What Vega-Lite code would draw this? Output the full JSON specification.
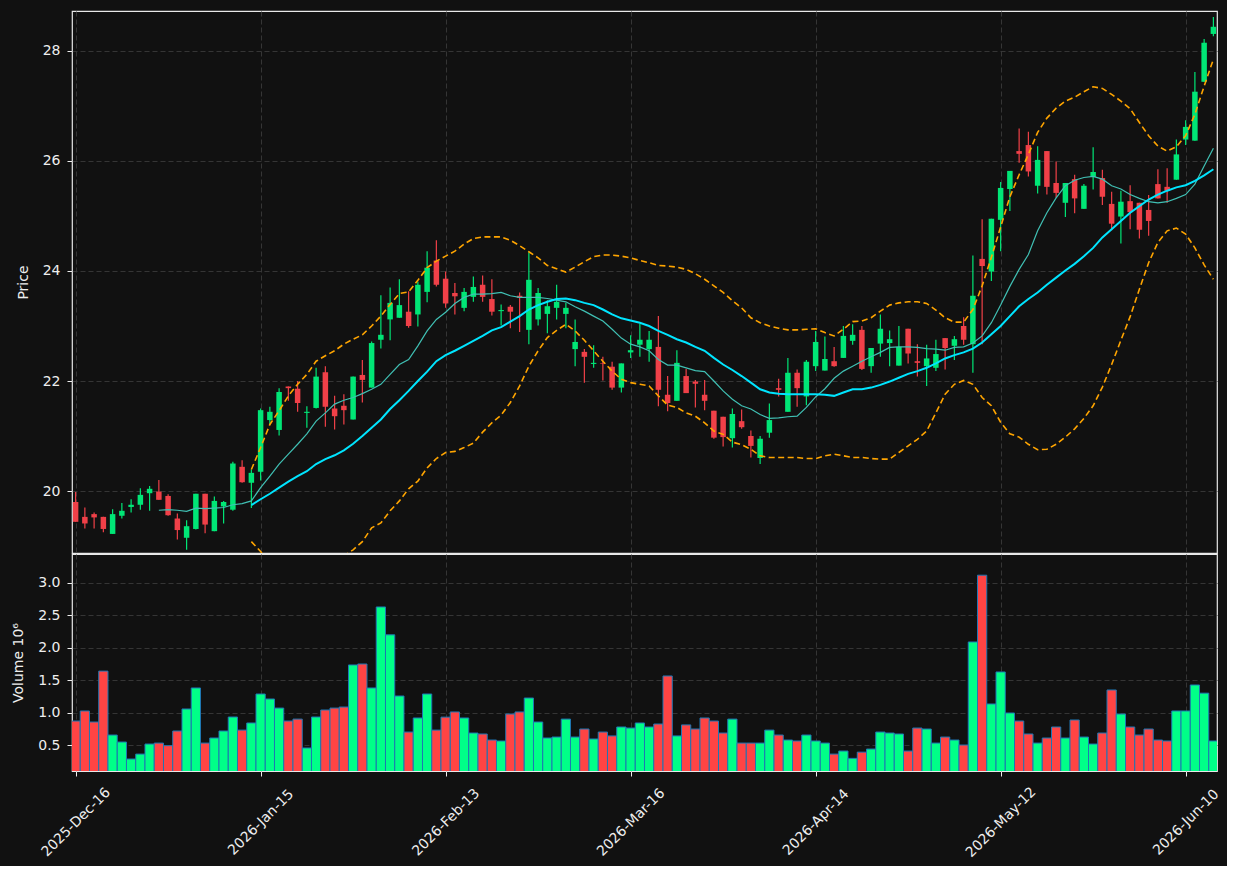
{
"$schema": "https://vega.github.io/schema/vega-lite/v6.json",
"background": "#111111",
"autosize": {"type": "pad"},
"padding": {"left": 11, "top": 10, "right": 5, "bottom": 5},
"spacing": 1,
"bounds": "flush",
"config": {
  "view": {"stroke": "#e8e8e8", "strokeWidth": 1.2},
  "axis": {"labelFont": "DejaVu Sans", "labelFontSize": 14, "labelColor": "#eeeeee", "titleFont": "DejaVu Sans", "titleFontSize": 14, "titleFontWeight": "normal", "titleColor": "#eeeeee", "tickColor": "#eeeeee", "tickSize": 5, "tickWidth": 1, "labelPadding": 7, "domain": false, "gridColor": "#3a3a3a", "gridDash": [5, 3], "gridWidth": 0.9}
},
"data": {"values": [
{"d":"2025-12-16","o":19.80,"h":19.98,"l":19.44,"c":19.44,"v":0.87},
{"d":"2025-12-17","o":19.53,"h":19.70,"l":19.32,"c":19.41,"v":1.025},
{"d":"2025-12-18","o":19.58,"h":19.61,"l":19.32,"c":19.52,"v":0.855},
{"d":"2025-12-19","o":19.53,"h":19.53,"l":19.25,"c":19.31,"v":1.64},
{"d":"2025-12-22","o":19.22,"h":19.67,"l":19.22,"c":19.58,"v":0.654},
{"d":"2025-12-23","o":19.55,"h":19.78,"l":19.50,"c":19.64,"v":0.546},
{"d":"2025-12-24","o":19.71,"h":19.85,"l":19.61,"c":19.75,"v":0.284},
{"d":"2025-12-26","o":19.75,"h":20.05,"l":19.66,"c":19.93,"v":0.36},
{"d":"2025-12-29","o":19.96,"h":20.09,"l":19.64,"c":20.04,"v":0.515},
{"d":"2025-12-30","o":19.99,"h":20.20,"l":19.84,"c":19.84,"v":0.53,"m10":19.65},
{"d":"2025-12-31","o":19.91,"h":19.94,"l":19.55,"c":19.56,"v":0.49,"m10":19.66},
{"d":"2026-01-02","o":19.50,"h":19.59,"l":19.12,"c":19.29,"v":0.716,"m10":19.65},
{"d":"2026-01-05","o":19.15,"h":19.47,"l":18.93,"c":19.36,"v":1.056,"m10":19.63},
{"d":"2026-01-06","o":19.31,"h":19.95,"l":19.30,"c":19.95,"v":1.38,"m10":19.69},
{"d":"2026-01-07","o":19.95,"h":19.95,"l":19.23,"c":19.39,"v":0.53,"m10":19.68},
{"d":"2026-01-08","o":19.27,"h":19.90,"l":19.27,"c":19.82,"v":0.608,"m10":19.69},
{"d":"2026-01-09","o":19.72,"h":19.82,"l":19.41,"c":19.80,"v":0.716,"m10":19.70},
{"d":"2026-01-12","o":19.66,"h":20.53,"l":19.64,"c":20.50,"v":0.932,"m10":19.75},
{"d":"2026-01-13","o":20.44,"h":20.56,"l":20.15,"c":20.16,"v":0.73,"m10":19.77},
{"d":"2026-01-14","o":20.15,"h":20.39,"l":19.69,"c":20.33,"v":0.84,"m10":19.82,"m20":19.745,"bu":20.39,"bl":19.08},
{"d":"2026-01-15","o":20.35,"h":21.50,"l":20.19,"c":21.47,"v":1.287,"m10":20.06,"m20":19.85,"bu":20.79,"bl":18.90},
{"d":"2026-01-16","o":21.29,"h":21.53,"l":21.21,"c":21.44,"v":1.21,"m10":20.27,"m20":19.95,"bu":21.21,"bl":18.69},
{"d":"2026-01-20","o":21.11,"h":21.87,"l":21.01,"c":21.80,"v":1.07,"m10":20.49,"m20":20.06,"bu":21.46,"bl":18.66},
{"d":"2026-01-21","o":21.90,"h":21.90,"l":21.64,"c":21.87,"v":0.87,"m10":20.67,"m20":20.17,"bu":21.73,"bl":18.61},
{"d":"2026-01-22","o":21.86,"h":22.00,"l":21.44,"c":21.60,"v":0.90,"m10":20.85,"m20":20.27,"bu":21.94,"bl":18.60},
{"d":"2026-01-23","o":21.42,"h":21.54,"l":21.15,"c":21.44,"v":0.454,"m10":21.04,"m20":20.36,"bu":22.12,"bl":18.61},
{"d":"2026-01-26","o":21.51,"h":22.24,"l":21.50,"c":22.08,"v":0.932,"m10":21.27,"m20":20.49,"bu":22.36,"bl":18.61},
{"d":"2026-01-27","o":22.16,"h":22.27,"l":21.17,"c":21.53,"v":1.04,"m10":21.42,"m20":20.58,"bu":22.46,"bl":18.70},
{"d":"2026-01-28","o":21.50,"h":21.73,"l":21.12,"c":21.36,"v":1.07,"m10":21.58,"m20":20.65,"bu":22.55,"bl":18.75},
{"d":"2026-01-29","o":21.55,"h":21.76,"l":21.21,"c":21.47,"v":1.086,"m10":21.65,"m20":20.74,"bu":22.67,"bl":18.82},
{"d":"2026-01-30","o":21.30,"h":22.08,"l":21.30,"c":22.08,"v":1.735,"m10":21.70,"m20":20.86,"bu":22.76,"bl":18.93},
{"d":"2026-02-02","o":22.11,"h":22.38,"l":21.61,"c":22.02,"v":1.75,"m10":21.77,"m20":21.00,"bu":22.84,"bl":19.08},
{"d":"2026-02-03","o":21.88,"h":22.72,"l":21.88,"c":22.69,"v":1.38,"m10":21.85,"m20":21.15,"bu":23.00,"bl":19.33},
{"d":"2026-02-04","o":22.75,"h":23.56,"l":22.59,"c":22.84,"v":2.63,"m10":21.94,"m20":21.30,"bu":23.18,"bl":19.42},
{"d":"2026-02-05","o":23.12,"h":23.70,"l":22.74,"c":23.42,"v":2.20,"m10":22.12,"m20":21.49,"bu":23.39,"bl":19.64},
{"d":"2026-02-06","o":23.15,"h":23.85,"l":23.15,"c":23.38,"v":1.256,"m10":22.30,"m20":21.65,"bu":23.59,"bl":19.82},
{"d":"2026-02-09","o":23.26,"h":23.63,"l":22.97,"c":23.00,"v":0.70,"m10":22.39,"m20":21.82,"bu":23.62,"bl":20.04},
{"d":"2026-02-10","o":23.21,"h":23.81,"l":22.99,"c":23.75,"v":0.917,"m10":22.64,"m20":22.00,"bu":23.83,"bl":20.18},
{"d":"2026-02-11","o":23.62,"h":24.36,"l":23.43,"c":24.06,"v":1.287,"m10":22.91,"m20":22.17,"bu":24.06,"bl":20.42},
{"d":"2026-02-12","o":24.19,"h":24.56,"l":23.72,"c":23.75,"v":0.73,"m10":23.12,"m20":22.36,"bu":24.18,"bl":20.59},
{"d":"2026-02-13","o":23.86,"h":23.99,"l":23.33,"c":23.41,"v":0.93,"m10":23.25,"m20":22.47,"bu":24.27,"bl":20.70},
{"d":"2026-02-17","o":23.60,"h":23.78,"l":23.21,"c":23.54,"v":1.01,"m10":23.41,"m20":22.55,"bu":24.36,"bl":20.72},
{"d":"2026-02-18","o":23.33,"h":23.69,"l":23.27,"c":23.62,"v":0.917,"m10":23.52,"m20":22.64,"bu":24.49,"bl":20.79},
{"d":"2026-02-19","o":23.53,"h":23.90,"l":23.44,"c":23.71,"v":0.685,"m10":23.58,"m20":22.73,"bu":24.59,"bl":20.87},
{"d":"2026-02-20","o":23.75,"h":23.92,"l":23.44,"c":23.53,"v":0.67,"m10":23.58,"m20":22.82,"bu":24.62,"bl":21.07},
{"d":"2026-02-23","o":23.49,"h":23.85,"l":23.19,"c":23.26,"v":0.577,"m10":23.59,"m20":22.92,"bu":24.62,"bl":21.24},
{"d":"2026-02-24","o":23.27,"h":23.39,"l":23.01,"c":23.29,"v":0.562,"m10":23.61,"m20":22.98,"bu":24.62,"bl":21.38},
{"d":"2026-02-25","o":23.35,"h":23.38,"l":22.96,"c":23.26,"v":0.978,"m10":23.55,"m20":23.08,"bu":24.56,"bl":21.61},
{"d":"2026-02-26","o":23.55,"h":23.61,"l":22.89,"c":23.51,"v":1.01,"m10":23.52,"m20":23.18,"bu":24.46,"bl":21.91},
{"d":"2026-02-27","o":22.93,"h":24.34,"l":22.67,"c":23.84,"v":1.225,"m10":23.52,"m20":23.30,"bu":24.35,"bl":22.27},
{"d":"2026-03-02","o":23.12,"h":23.69,"l":23.01,"c":23.60,"v":0.855,"m10":23.52,"m20":23.38,"bu":24.24,"bl":22.55},
{"d":"2026-03-03","o":23.22,"h":23.47,"l":22.87,"c":23.36,"v":0.608,"m10":23.50,"m20":23.44,"bu":24.10,"bl":22.79},
{"d":"2026-03-04","o":23.33,"h":23.75,"l":23.12,"c":23.44,"v":0.623,"m10":23.47,"m20":23.49,"bu":24.04,"bl":22.92},
{"d":"2026-03-05","o":23.22,"h":23.42,"l":22.96,"c":23.33,"v":0.90,"m10":23.44,"m20":23.50,"bu":23.98,"bl":23.03},
{"d":"2026-03-06","o":22.58,"h":23.12,"l":22.27,"c":22.71,"v":0.623,"m10":23.35,"m20":23.47,"bu":24.07,"bl":22.91},
{"d":"2026-03-09","o":22.53,"h":22.58,"l":21.97,"c":22.44,"v":0.747,"m10":23.27,"m20":23.42,"bu":24.17,"bl":22.74},
{"d":"2026-03-10","o":22.31,"h":22.65,"l":22.24,"c":22.33,"v":0.593,"m10":23.18,"m20":23.38,"bu":24.26,"bl":22.55},
{"d":"2026-03-11","o":22.32,"h":22.44,"l":22.01,"c":22.31,"v":0.70,"m10":23.09,"m20":23.30,"bu":24.29,"bl":22.36},
{"d":"2026-03-12","o":22.26,"h":22.35,"l":21.84,"c":21.88,"v":0.64,"m10":22.94,"m20":23.21,"bu":24.29,"bl":22.18},
{"d":"2026-03-13","o":21.88,"h":22.32,"l":21.79,"c":22.32,"v":0.778,"m10":22.78,"m20":23.14,"bu":24.27,"bl":22.03},
{"d":"2026-03-16","o":22.52,"h":22.83,"l":22.42,"c":22.56,"v":0.762,"m10":22.67,"m20":23.10,"bu":24.24,"bl":21.97},
{"d":"2026-03-17","o":22.66,"h":23.04,"l":22.44,"c":22.75,"v":0.84,"m10":22.62,"m20":23.06,"bu":24.19,"bl":21.94},
{"d":"2026-03-18","o":22.58,"h":22.91,"l":22.35,"c":22.75,"v":0.778,"m10":22.55,"m20":23.00,"bu":24.15,"bl":21.91},
{"d":"2026-03-19","o":22.62,"h":23.18,"l":21.54,"c":21.84,"v":0.824,"m10":22.39,"m20":22.91,"bu":24.10,"bl":21.73},
{"d":"2026-03-20","o":21.75,"h":22.09,"l":21.45,"c":21.60,"v":1.565,"m10":22.29,"m20":22.84,"bu":24.09,"bl":21.56},
{"d":"2026-03-23","o":21.64,"h":22.56,"l":21.64,"c":22.33,"v":0.64,"m10":22.29,"m20":22.76,"bu":24.07,"bl":21.52},
{"d":"2026-03-24","o":22.09,"h":22.22,"l":21.78,"c":21.78,"v":0.81,"m10":22.24,"m20":22.70,"bu":24.03,"bl":21.42},
{"d":"2026-03-25","o":21.99,"h":22.02,"l":21.52,"c":21.95,"v":0.747,"m10":22.19,"m20":22.62,"bu":23.95,"bl":21.36},
{"d":"2026-03-26","o":21.75,"h":22.02,"l":21.47,"c":21.64,"v":0.917,"m10":22.17,"m20":22.55,"bu":23.85,"bl":21.24},
{"d":"2026-03-27","o":21.46,"h":21.46,"l":20.95,"c":20.97,"v":0.87,"m10":22.00,"m20":22.42,"bu":23.73,"bl":21.09},
{"d":"2026-03-30","o":21.35,"h":21.35,"l":20.81,"c":20.98,"v":0.685,"m10":21.82,"m20":22.30,"bu":23.61,"bl":21.03},
{"d":"2026-03-31","o":20.96,"h":21.50,"l":20.79,"c":21.40,"v":0.90,"m10":21.67,"m20":22.20,"bu":23.46,"bl":20.89},
{"d":"2026-04-01","o":21.27,"h":21.48,"l":21.13,"c":21.16,"v":0.53,"m10":21.55,"m20":22.09,"bu":23.33,"bl":20.84},
{"d":"2026-04-02","o":21.00,"h":21.10,"l":20.61,"c":20.82,"v":0.53,"m10":21.49,"m20":21.97,"bu":23.15,"bl":20.76},
{"d":"2026-04-06","o":20.60,"h":21.00,"l":20.49,"c":20.95,"v":0.53,"m10":21.39,"m20":21.85,"bu":23.06,"bl":20.64},
{"d":"2026-04-07","o":21.06,"h":21.59,"l":20.97,"c":21.29,"v":0.73,"m10":21.32,"m20":21.79,"bu":23.00,"bl":20.61},
{"d":"2026-04-08","o":21.87,"h":22.04,"l":21.72,"c":21.84,"v":0.654,"m10":21.33,"m20":21.77,"bu":22.96,"bl":20.61},
{"d":"2026-04-09","o":21.44,"h":22.42,"l":21.44,"c":22.15,"v":0.577,"m10":21.35,"m20":21.76,"bu":22.93,"bl":20.61},
{"d":"2026-04-10","o":22.15,"h":22.21,"l":21.53,"c":21.87,"v":0.562,"m10":21.36,"m20":21.76,"bu":22.93,"bl":20.61},
{"d":"2026-04-13","o":21.72,"h":22.38,"l":21.56,"c":22.35,"v":0.654,"m10":21.52,"m20":21.76,"bu":22.94,"bl":20.59},
{"d":"2026-04-14","o":22.27,"h":22.91,"l":22.18,"c":22.71,"v":0.562,"m10":21.71,"m20":21.76,"bu":22.95,"bl":20.59},
{"d":"2026-04-15","o":22.19,"h":22.81,"l":22.19,"c":22.40,"v":0.53,"m10":21.86,"m20":21.75,"bu":22.88,"bl":20.64},
{"d":"2026-04-16","o":22.36,"h":22.62,"l":22.26,"c":22.27,"v":0.36,"m10":22.05,"m20":21.73,"bu":22.82,"bl":20.67},
{"d":"2026-04-17","o":22.42,"h":23.00,"l":22.42,"c":22.82,"v":0.407,"m10":22.18,"m20":21.79,"bu":22.94,"bl":20.64},
{"d":"2026-04-20","o":22.73,"h":23.03,"l":22.66,"c":22.84,"v":0.294,"m10":22.27,"m20":21.85,"bu":23.08,"bl":20.61},
{"d":"2026-04-21","o":22.93,"h":23.00,"l":22.20,"c":22.22,"v":0.39,"m10":22.36,"m20":21.85,"bu":23.09,"bl":20.61},
{"d":"2026-04-22","o":22.27,"h":22.60,"l":22.15,"c":22.60,"v":0.438,"m10":22.44,"m20":21.88,"bu":23.15,"bl":20.59},
{"d":"2026-04-23","o":22.68,"h":23.21,"l":22.44,"c":22.95,"v":0.70,"m10":22.52,"m20":21.93,"bu":23.27,"bl":20.58},
{"d":"2026-04-24","o":22.69,"h":22.92,"l":22.27,"c":22.76,"v":0.685,"m10":22.61,"m20":21.99,"bu":23.38,"bl":20.58},
{"d":"2026-04-27","o":22.28,"h":23.00,"l":22.28,"c":22.62,"v":0.67,"m10":22.62,"m20":22.06,"bu":23.42,"bl":20.70},
{"d":"2026-04-28","o":22.95,"h":22.95,"l":22.32,"c":22.50,"v":0.407,"m10":22.62,"m20":22.13,"bu":23.44,"bl":20.82},
{"d":"2026-04-29","o":22.36,"h":22.67,"l":22.08,"c":22.33,"v":0.762,"m10":22.61,"m20":22.18,"bu":23.44,"bl":20.94},
{"d":"2026-04-30","o":22.27,"h":22.66,"l":21.91,"c":22.41,"v":0.747,"m10":22.59,"m20":22.24,"bu":23.41,"bl":21.09},
{"d":"2026-05-01","o":22.24,"h":22.75,"l":22.18,"c":22.49,"v":0.53,"m10":22.58,"m20":22.32,"bu":23.29,"bl":21.42},
{"d":"2026-05-04","o":22.78,"h":22.78,"l":22.21,"c":22.60,"v":0.623,"m10":22.56,"m20":22.41,"bu":23.15,"bl":21.76},
{"d":"2026-05-05","o":22.64,"h":22.82,"l":22.38,"c":22.76,"v":0.577,"m10":22.61,"m20":22.47,"bu":23.07,"bl":21.94},
{"d":"2026-05-06","o":23.00,"h":23.16,"l":22.66,"c":22.75,"v":0.50,"m10":22.62,"m20":22.52,"bu":23.07,"bl":22.01},
{"d":"2026-05-07","o":22.67,"h":24.28,"l":22.15,"c":23.55,"v":2.09,"m10":22.69,"m20":22.59,"bu":23.30,"bl":21.94},
{"d":"2026-05-08","o":24.22,"h":24.94,"l":22.67,"c":24.09,"v":3.12,"m10":22.82,"m20":22.70,"bu":23.73,"bl":21.70},
{"d":"2026-05-11","o":23.99,"h":24.95,"l":23.82,"c":24.95,"v":1.133,"m10":23.06,"m20":22.85,"bu":24.25,"bl":21.55},
{"d":"2026-05-12","o":24.93,"h":25.62,"l":24.36,"c":25.51,"v":1.627,"m10":23.38,"m20":23.00,"bu":24.80,"bl":21.25},
{"d":"2026-05-13","o":25.49,"h":25.82,"l":25.09,"c":25.82,"v":0.994,"m10":23.72,"m20":23.18,"bu":25.35,"bl":21.04},
{"d":"2026-05-14","o":26.18,"h":26.59,"l":25.97,"c":26.13,"v":0.87,"m10":24.03,"m20":23.36,"bu":25.75,"bl":20.98},
{"d":"2026-05-15","o":26.29,"h":26.53,"l":25.72,"c":25.81,"v":0.67,"m10":24.30,"m20":23.49,"bu":26.12,"bl":20.85},
{"d":"2026-05-18","o":25.55,"h":26.27,"l":25.41,"c":26.02,"v":0.53,"m10":24.73,"m20":23.61,"bu":26.52,"bl":20.75},
{"d":"2026-05-19","o":26.18,"h":26.18,"l":25.39,"c":25.53,"v":0.608,"m10":25.06,"m20":23.75,"bu":26.78,"bl":20.76},
{"d":"2026-05-20","o":25.60,"h":25.99,"l":25.33,"c":25.42,"v":0.778,"m10":25.33,"m20":23.88,"bu":26.96,"bl":20.85},
{"d":"2026-05-21","o":25.24,"h":25.60,"l":24.98,"c":25.60,"v":0.608,"m10":25.55,"m20":24.01,"bu":27.09,"bl":20.98},
{"d":"2026-05-22","o":25.67,"h":25.75,"l":25.05,"c":25.32,"v":0.886,"m10":25.65,"m20":24.13,"bu":27.16,"bl":21.13},
{"d":"2026-05-26","o":25.13,"h":25.58,"l":25.13,"c":25.55,"v":0.623,"m10":25.70,"m20":24.27,"bu":27.26,"bl":21.32},
{"d":"2026-05-27","o":25.71,"h":26.25,"l":25.48,"c":25.80,"v":0.515,"m10":25.72,"m20":24.42,"bu":27.35,"bl":21.55},
{"d":"2026-05-28","o":25.69,"h":25.84,"l":25.20,"c":25.35,"v":0.685,"m10":25.67,"m20":24.61,"bu":27.32,"bl":21.89},
{"d":"2026-05-29","o":25.22,"h":25.44,"l":24.74,"c":24.86,"v":1.349,"m10":25.55,"m20":24.76,"bu":27.21,"bl":22.30},
{"d":"2026-06-01","o":24.99,"h":25.46,"l":24.50,"c":25.26,"v":0.978,"m10":25.49,"m20":24.91,"bu":27.09,"bl":22.74},
{"d":"2026-06-02","o":25.27,"h":25.56,"l":24.76,"c":25.07,"v":0.778,"m10":25.39,"m20":25.06,"bu":26.95,"bl":23.17},
{"d":"2026-06-03","o":25.24,"h":25.24,"l":24.59,"c":24.75,"v":0.654,"m10":25.32,"m20":25.18,"bu":26.70,"bl":23.67},
{"d":"2026-06-04","o":25.11,"h":25.38,"l":24.64,"c":24.91,"v":0.747,"m10":25.26,"m20":25.30,"bu":26.46,"bl":24.15},
{"d":"2026-06-05","o":25.58,"h":25.85,"l":25.32,"c":25.32,"v":0.577,"m10":25.24,"m20":25.39,"bu":26.27,"bl":24.52},
{"d":"2026-06-08","o":25.53,"h":25.87,"l":25.24,"c":25.46,"v":0.562,"m10":25.26,"m20":25.46,"bu":26.18,"bl":24.73},
{"d":"2026-06-09","o":25.66,"h":26.39,"l":25.66,"c":26.12,"v":1.025,"m10":25.32,"m20":25.52,"bu":26.26,"bl":24.78},
{"d":"2026-06-10","o":26.39,"h":26.74,"l":26.29,"c":26.62,"v":1.025,"m10":25.39,"m20":25.56,"bu":26.46,"bl":24.67},
{"d":"2026-06-11","o":26.37,"h":27.62,"l":26.37,"c":27.26,"v":1.426,"m10":25.58,"m20":25.64,"bu":26.85,"bl":24.42},
{"d":"2026-06-12","o":27.44,"h":28.22,"l":27.44,"c":28.15,"v":1.30,"m10":25.91,"m20":25.74,"bu":27.36,"bl":24.11},
{"d":"2026-06-15","o":28.31,"h":28.62,"l":28.27,"c":28.44,"v":0.562,"m10":26.23,"m20":25.85,"bu":27.85,"bl":23.85}
]},
"vconcat": [
{
  "width": 1145, "height": 542,
  "encoding": {
    "x": {"field": "d", "type": "ordinal", "scale": {"type": "point", "padding": 0.39},
          "axis": {"values": ["2025-12-16","2026-01-15","2026-02-13","2026-03-16","2026-04-14","2026-05-12","2026-06-10"], "labels": false, "ticks": false, "domain": false, "grid": true, "title": null}}
  },
  "layer": [
    {"mark": {"type": "rule", "strokeWidth": 1.2},
     "encoding": {
       "y": {"field": "l", "type": "quantitative", "scale": {"domain": [18.873, 28.727], "nice": false, "zero": false},
             "axis": {"values": [20, 22, 24, 26, 28], "format": "d", "title": "Price", "grid": true, "titlePadding": 12}},
       "y2": {"field": "h"},
       "color": {"condition": {"test": "datum.c >= datum.o", "value": "#00e676"}, "value": "#f04048"}}},
    {"mark": {"type": "bar", "size": 5.5},
     "encoding": {
       "y": {"field": "o", "type": "quantitative"},
       "y2": {"field": "c"},
       "color": {"condition": {"test": "datum.c >= datum.o", "value": "#00e676"}, "value": "#f04048"}}},
    {"mark": {"type": "line", "color": "#ffa500", "strokeWidth": 1.6, "strokeDash": [6, 3.5], "clip": true},
     "encoding": {"y": {"field": "bu", "type": "quantitative"}}},
    {"mark": {"type": "line", "color": "#ffa500", "strokeWidth": 1.6, "strokeDash": [6, 3.5], "clip": true},
     "encoding": {"y": {"field": "bl", "type": "quantitative"}}},
    {"mark": {"type": "line", "color": "#40c0b4", "strokeWidth": 1.2, "clip": true},
     "encoding": {"y": {"field": "m10", "type": "quantitative"}}},
    {"mark": {"type": "line", "color": "#00e5ff", "strokeWidth": 2, "clip": true},
     "encoding": {"y": {"field": "m20", "type": "quantitative"}}}
  ]
},
{
  "width": 1145, "height": 217,
  "mark": {"type": "bar", "size": 9.25, "stroke": "#1f77b4", "strokeWidth": 1, "clip": true},
  "encoding": {
    "x": {"field": "d", "type": "ordinal", "scale": {"type": "point", "padding": 0.39},
          "axis": {"values": ["2025-12-16","2026-01-15","2026-02-13","2026-03-16","2026-04-14","2026-05-12","2026-06-10"],
                   "labelExpr": "utcFormat(toDate(datum.value), '%Y-%b-%d')", "labelAngle": -45, "labelAlign": "center", "labelBaseline": "middle", "labelPadding": 46, "labelOverlap": false, "grid": true, "title": null}},
    "y": {"field": "v", "type": "quantitative", "scale": {"domain": [0.099, 3.447], "nice": false, "zero": false},
          "axis": {"values": [0.5, 1.0, 1.5, 2.0, 2.5, 3.0], "format": ".1f", "title": "Volume  10⁶", "grid": true, "titlePadding": 12}},
    "y2": {"datum": 0},
    "fill": {"condition": {"test": "datum.c >= datum.o", "value": "#00ff88"}, "value": "#ff4444"}
  }
}
]
}
